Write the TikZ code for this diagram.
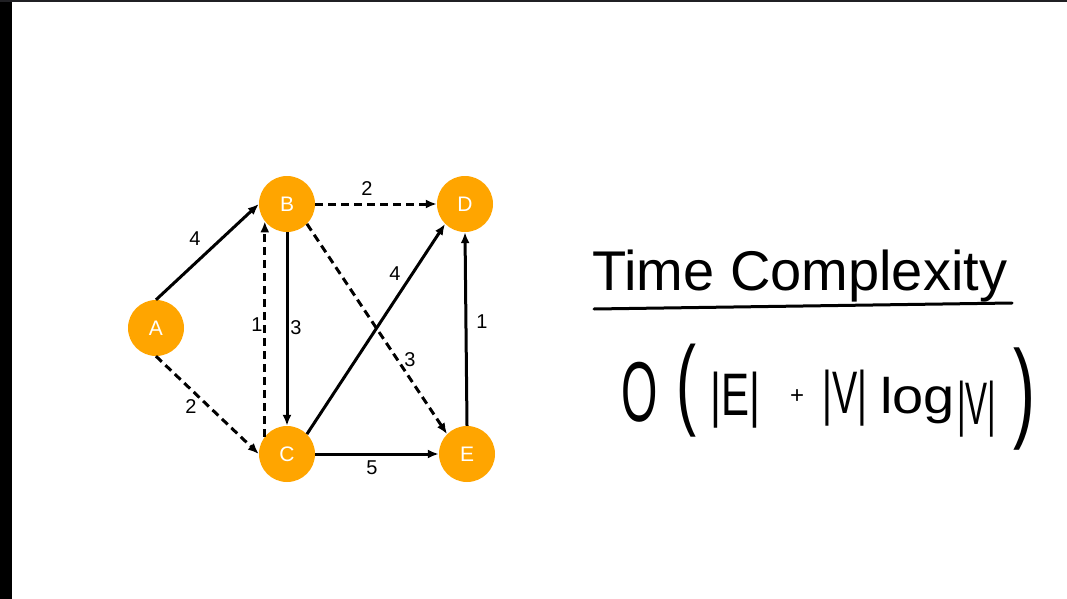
\documentclass[tikz,border=0pt]{standalone}
\usepackage{fontspec}
\setmainfont{Liberation Sans}
\usetikzlibrary{arrows.meta}
\definecolor{nodeorange}{RGB}{255,165,0}
\definecolor{topbar}{RGB}{32,32,36}
\newcommand{\fs}[1]{\fontsize{#1}{#1}\selectfont}
\begin{document}
\begin{tikzpicture}[x=1pt,y=-1pt,
  vert/.style={circle,fill=nodeorange,minimum size=56pt,inner sep=0pt,text=white,font=\fs{21}},
  edge/.style={line width=3pt,-{Latex[length=11pt,width=9pt]}},
  dashedge/.style={edge,dash pattern=on 8pt off 5pt},
  wlabel/.style={font=\fs{20},inner sep=0pt},
  hand/.style={inner sep=0pt,anchor=base west}]
\useasboundingbox (0,0) rectangle (1067,599);
\fill[white] (0,0) rectangle (1067,599);
\fill[black] (0,0) rectangle (12,599);
\fill[topbar] (0,0) rectangle (1067,2);

% vertices
\node[vert] (A) at (156,328) {A};
\node[vert] (B) at (287,204) {B};
\node[vert] (D) at (465,204) {D};
\node[vert] (C) at (287,454) {C};
\node[vert] (E) at (467,454) {E};

% edges
\draw[edge] (A.north) -- (B.west);
\draw[dashedge] (A.south) -- (C.west);
\draw[dashedge] (B.east) -- (D.west);
\draw[edge] (B.south) -- (C.north);
\draw[dashedge] (C.142) -- (B.218);
\draw[edge] (C.45) -- (D.225);
\draw[dashedge] (B.-45) -- (E.135);
\draw[edge] (C.east) -- (E.west);
\draw[edge] (E.north) -- (D.south);

% edge weights
\node[wlabel] (wAB) at (195,239) {4};
\node[wlabel] (wAC) at (191,407) {2};
\node[wlabel] (wBD) at (367,189) {2};
\node[wlabel] (wCB) at (257,325) {1};
\node[wlabel] (wBC) at (296,328) {3};
\node[wlabel] (wCD) at (395,274) {4};
\node[wlabel] (wBE) at (410,360) {3};
\node[wlabel] (wCE) at (372,468) {5};
\node[wlabel] (wED) at (482,322) {1};

% handwritten part
\node[hand,font=\fs{56}] (title) at (592,290) {Time Complexity};
\draw[line width=3pt,line cap=round] (594,309) -- (1012,303);

\node[hand,font=\fs{85}] (fO) at (621,421) {\scalebox{0.55}[1]{O}};
\node[hand,font=\fs{100}] (fLP) at (676,416) {\scalebox{0.6}[1]{(}};
\node[hand,font=\fs{60}] (fE) at (710,415) {\scalebox{0.7}[1]{|E|}};
\node[inner sep=0pt,font=\fs{24}] (fPlus) at (797,397) {+};
\node[hand,font=\fs{60}] (fV1) at (822,413) {\scalebox{0.63}[1]{|V|}};
\node[hand,font=\fs{50}] (fLog) at (880,413) {\scalebox{1.12}[1]{log}};
\node[hand,font=\fs{60}] (fV2) at (957,424) {\scalebox{0.55}[1]{|V|}};
\node[hand,font=\fs{110}] (fRP) at (1013,427) {\scalebox{0.6}[1]{)}};
\end{tikzpicture}
\end{document}
